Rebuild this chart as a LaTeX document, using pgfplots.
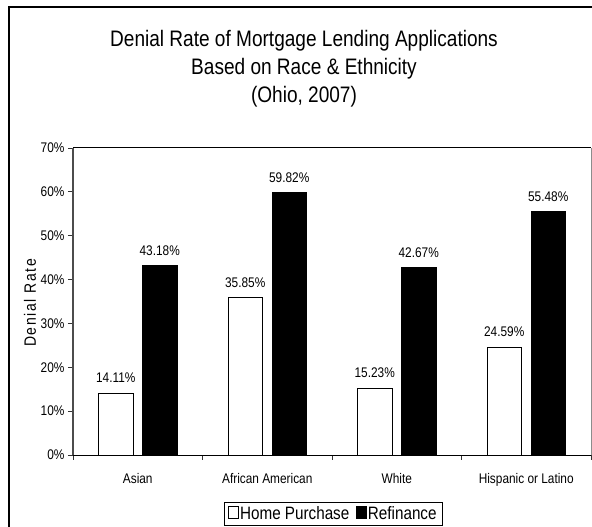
\documentclass[border=0pt]{standalone}
\usepackage{pgfplots}
\pgfplotsset{compat=1.18}
\usepackage{fontspec}
\setmainfont{Liberation Sans}[FakeStretch=0.85]
\newfontfamily\ylabfont{Liberation Sans}[FakeStretch=0.85,LetterSpace=10]
\begin{document}
\begin{tikzpicture}
\useasboundingbox (0,0) rectangle (592bp,527bp);
\draw[line width=1.3bp] (9bp,-2bp) -- (9bp,520bp) -- (594bp,520bp);
\node[anchor=base,font=\fontsize{22.5}{26}\selectfont] at (304bp,480bp) {Denial Rate of Mortgage Lending Applications};
\node[anchor=base,font=\fontsize{22.5}{26}\selectfont] at (304bp,452bp) {Based on Race \& Ethnicity};
\node[anchor=base,font=\fontsize{22.5}{26}\selectfont] at (304bp,424bp) {(Ohio, 2007)};
\begin{axis}[
  at={(73bp,72bp)}, anchor=south west, scale only axis,
  width=518bp, height=307bp,
  xmin=0, xmax=4, ymin=0, ymax=70,
  clip=false,
  ytick={0,10,...,70},
  yticklabel={\pgfmathprintnumber{\tick}\%},
  xtick={0,1,2,3,4},
  x tick label as interval,
  xticklabels={Asian,African American,White,Hispanic or Latino},
  xticklabel style={yshift=-10bp},
  xtick pos=left, ytick pos=left,
  tick align=outside, major tick length=5bp,
  tick style={black!80, line width=0.8bp},
  axis line style={draw=none},
  ticklabel style={font=\fontsize{14}{16}\selectfont},
  /pgf/number format/assume math mode=true,
  ylabel={\ylabfont Denial Rate},
  ylabel style={font=\fontsize{16.5}{18}\selectfont, at={(axis description cs:-0.083,0.495)}, anchor=center},
  ybar, bar width=34.5bp,
  nodes near coords={\pgfmathprintnumber[fixed,precision=2,fixed zerofill]{\pgfplotspointmeta}\%},
  nodes near coords style={font=\fontsize{14}{16}\selectfont, anchor=south, inner sep=0pt, yshift=10bp},
  legend columns=2,
  legend style={at={(axis description cs:0.502,-0.192)}, anchor=center, draw=black, line width=0.6bp,
    font=\fontsize{18}{20}\selectfont, inner xsep=4bp, inner ysep=2.5bp, nodes={inner sep=1.5bp},
    /tikz/every even column/.append style={column sep=5bp}},
  legend image code/.code={\draw[#1, line width=0.6bp] (0bp,-4.5bp) rectangle (10bp,8bp);},
]
\addplot[fill=white, draw=black, line width=0.8bp, bar shift=-22bp]
  coordinates {(0.5,14.11) (1.5,35.85) (2.5,15.23) (3.5,24.59)};
\addlegendentry{Home Purchase}
\addplot[fill=black, draw=black, line width=0.8bp, bar shift=22bp]
  coordinates {(0.5,43.18) (1.5,59.82) (2.5,42.67) (3.5,55.48)};
\addlegendentry{Refinance}
\draw[black!70, line width=1.6bp] (rel axis cs:0,0) -- (rel axis cs:0,1);
\draw[black, line width=1bp] (rel axis cs:0,1) -- (rel axis cs:1,1);
\draw[black!45, line width=1bp] (rel axis cs:1,1) -- (rel axis cs:1,0);
\draw[black, line width=1bp] (rel axis cs:0,0) -- (rel axis cs:1,0);
\end{axis}
\end{tikzpicture}
\end{document}
